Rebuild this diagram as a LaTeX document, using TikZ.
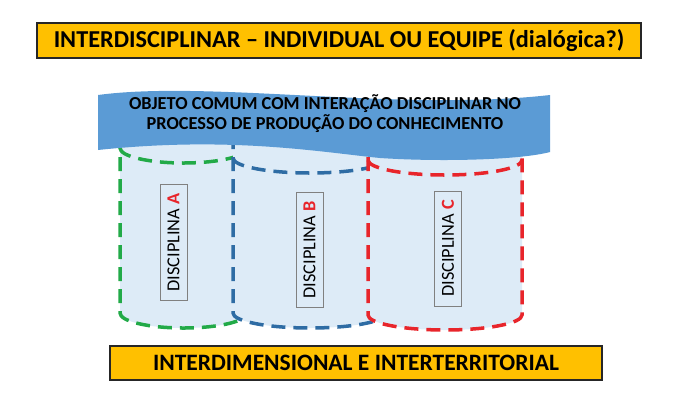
\documentclass[tikz,border=0pt]{standalone}
\usepackage{fontspec}
\setmainfont{Carlito}
\definecolor{gold}{RGB}{255,192,0}
\definecolor{ribbon}{RGB}{91,155,213}
\definecolor{canfill}{RGB}{221,235,247}
\definecolor{cgreen}{RGB}{34,170,72}
\definecolor{cblue}{RGB}{46,108,164}
\definecolor{cred}{RGB}{232,37,43}
\begin{document}
\begin{tikzpicture}[x=1pt,y=-1pt,
  banner/.style={draw=black!85,line width=1.5pt,fill=gold,inner sep=0pt,font=\bfseries\fontsize{24.3}{27}\selectfont},
  can/.style={line width=3.5pt,dash pattern=on 14pt off 8pt},
  tag/.style={draw=black!50,fill=canfill,rotate=90,inner xsep=9pt,inner ysep=0pt,minimum height=27pt,font=\fontsize{18.3}{20}\selectfont}]
\useasboundingbox (0,0) rectangle (676,400);

\node[banner,minimum width=604pt,minimum height=35pt] (title) at (339,40.5) {INTERDISCIPLINAR -- INDIVIDUAL OU EQUIPE (dialógica?)};

\fill[canfill] (120,135) -- (120,313) arc[start angle=180,end angle=360,x radius=63.5pt,y radius=15pt] -- (247,135) -- cycle;
\draw[can,draw=cgreen] (120,135) -- (120,313) arc[start angle=180,end angle=360,x radius=63.5pt,y radius=15pt] -- (247,135);
\draw[can,draw=cgreen] (120,148) arc[start angle=180,end angle=360,x radius=63.5pt,y radius=15pt];

\fill[canfill] (233,135) -- (233,313) arc[start angle=180,end angle=360,x radius=77pt,y radius=15pt] -- (387,135) -- cycle;
\draw[can,draw=cblue] (233,135) -- (233,313) arc[start angle=180,end angle=360,x radius=77pt,y radius=15pt] -- (387,135);
\draw[can,draw=cblue] (233,158) arc[start angle=180,end angle=360,x radius=77pt,y radius=15pt];

\fill[canfill] (368,135) -- (368,315) arc[start angle=180,end angle=360,x radius=77pt,y radius=15pt] -- (522,135) -- cycle;
\draw[can,draw=cred] (368,135) -- (368,315) arc[start angle=180,end angle=360,x radius=77pt,y radius=15pt] -- (522,135);
\draw[can,draw=cred] (368,160) arc[start angle=180,end angle=360,x radius=77pt,y radius=15pt];

\fill[ribbon] (98,95) .. controls (210,80) and (400,112) .. (550,95) -- (550,152) .. controls (520,160) and (440,162) .. (380,158) .. controls (320,152) and (230,136) .. (98,150) -- cycle;
\node[align=center,font=\bfseries\fontsize{18.3}{20}\selectfont] (object) at (325,114) {OBJETO COMUM COM INTERAÇÃO DISCIPLINAR NO\\PROCESSO DE PRODUÇÃO DO CONHECIMENTO};

\node[tag] (taga) at (173.5,242.5) {DISCIPLINA \textcolor{cred}{\bfseries A}};
\node[tag] (tagb) at (309.5,250) {DISCIPLINA \textcolor{cred}{\bfseries B}};
\node[tag] (tagc) at (448,248.5) {DISCIPLINA \textcolor{cred}{\bfseries C}};

\node[banner,minimum width=492pt,minimum height=34pt,font=\bfseries\fontsize{23.5}{26}\selectfont] (scope) at (356,363) {INTERDIMENSIONAL E INTERTERRITORIAL};
\end{tikzpicture}
\end{document}
